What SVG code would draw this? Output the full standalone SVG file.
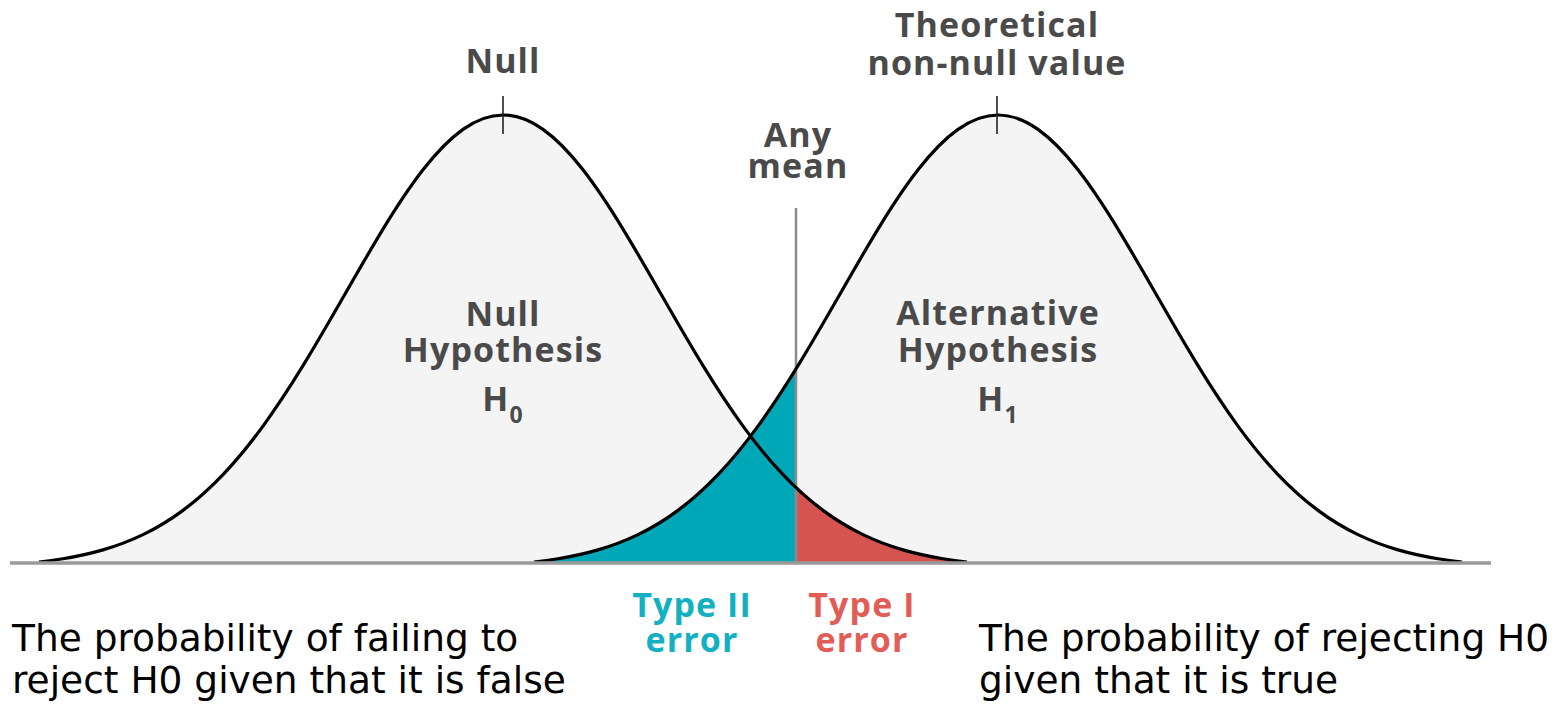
<svg xmlns="http://www.w3.org/2000/svg" xmlns:xlink="http://www.w3.org/1999/xlink" width="1558" height="704" viewBox="0 0 1558 704">
<style>
.lbl{font-family:"Open Sans","Liberation Sans",sans-serif;font-weight:700;font-size:34px;fill:#4a4a4a;text-anchor:middle;letter-spacing:1.1px}
.sub{font-size:23px}
.note{font-family:"DejaVu Sans","Liberation Sans",sans-serif;font-size:37.5px;fill:#000}
.bellfill{fill:#f4f4f4;stroke:none}
.bellline{fill:none;stroke:#000;stroke-width:3.2}
.tick{stroke:#222;stroke-width:1.6}
</style>
<defs>
<path id="bell" d="M-464,447 C-456,446.12 -448,445.06 -440,443.76 C-426.67,441.6 -413.33,438.78 -400,434.91 C-386.67,431.04 -373.33,426.1 -360,419.67 C-346.67,413.24 -333.33,405.29 -320,395.4 C-306.67,385.51 -293.33,373.68 -280,359.64 C-266.67,345.6 -253.33,329.38 -240,311.08 C-226.67,292.78 -213.33,272.42 -200,250.68 C-186.67,228.94 -173.33,205.82 -160,182.57 C-146.67,159.32 -133.33,135.96 -120,114.11 C-106.67,92.26 -93.33,71.94 -80,54.82 C-66.67,37.7 -53.33,23.81 -40,14.38 C-26.67,4.95 -13.33,0 0,0 C13.33,0 26.67,4.95 40,14.38 C53.33,23.81 66.67,37.7 80,54.82 C93.33,71.94 106.67,92.26 120,114.11 C133.33,135.96 146.67,159.32 160,182.57 C173.33,205.82 186.67,228.94 200,250.68 C213.33,272.42 226.67,292.78 240,311.08 C253.33,329.38 266.67,345.6 280,359.64 C293.33,373.68 306.67,385.51 320,395.4 C333.33,405.29 346.67,413.24 360,419.67 C373.33,426.1 386.67,431.04 400,434.91 C413.33,438.78 426.67,441.6 440,443.76 C448,445.06 456,446.12 464,447"/>
<clipPath id="leftOfLine"><rect x="0" y="0" width="796" height="563"/></clipPath>
<clipPath id="rightOfLine"><rect x="796" y="0" width="762" height="563"/></clipPath>
</defs>

<g id="null-dist">
<use xlink:href="#bell" href="#bell" class="bellfill" transform="translate(503,115)"/>
</g>
<g id="alt-dist">
<use xlink:href="#bell" href="#bell" class="bellfill" transform="translate(998,115)"/>
</g>
<g id="type2-area" clip-path="url(#leftOfLine)">
<use xlink:href="#bell" href="#bell" fill="#00a8b7" transform="translate(998,115)"/>
</g>
<g id="type1-area" clip-path="url(#rightOfLine)">
<use xlink:href="#bell" href="#bell" fill="#d6544f" transform="translate(503,115)"/>
</g>

<g id="connectors">
<line x1="796" y1="208" x2="796" y2="562" stroke="#8a8a8a" stroke-width="2.5"/>
<use xlink:href="#bell" href="#bell" class="bellline" transform="translate(503,115)"/>
<use xlink:href="#bell" href="#bell" class="bellline" transform="translate(998,115)"/>
<line x1="10" y1="563" x2="1491" y2="563" stroke="#9a9a9a" stroke-width="3.5"/>
<line class="tick" x1="503" y1="96" x2="503" y2="134"/>
<line class="tick" x1="997" y1="96" x2="997" y2="134"/>
</g>

<g id="label-null-top"><text class="lbl" x="503" y="73">Null</text></g>
<g id="label-theoretical">
<text class="lbl" x="997" y="37">Theoretical</text>
<text class="lbl" x="997" y="75">non-null value</text>
</g>
<g id="label-any-mean">
<text class="lbl" x="798" y="147">Any</text>
<text class="lbl" x="798" y="178">mean</text>
</g>
<g id="label-h0">
<text class="lbl" x="503" y="326">Null</text>
<text class="lbl" x="503" y="362">Hypothesis</text>
<text class="lbl" x="503" y="411">H<tspan class="sub" dy="12">0</tspan></text>
</g>
<g id="label-h1">
<text class="lbl" x="998" y="325">Alternative</text>
<text class="lbl" x="998" y="362">Hypothesis</text>
<text class="lbl" x="998" y="411">H<tspan class="sub" dy="12">1</tspan></text>
</g>
<g id="label-type2">
<text class="lbl" x="692" y="617" style="fill:#12b0c1">Type II</text>
<text class="lbl" x="692" y="652" style="fill:#12b0c1">error</text>
</g>
<g id="label-type1">
<text class="lbl" x="862" y="617" style="fill:#e35d57">Type I</text>
<text class="lbl" x="862" y="652" style="fill:#e35d57">error</text>
</g>
<g id="note-left">
<text class="note" x="12" y="651">The probability of failing to</text>
<text class="note" x="12" y="693">reject H0 given that it is false</text>
</g>
<g id="note-right">
<text class="note" x="979" y="651">The probability of rejecting H0</text>
<text class="note" x="979" y="693">given that it is true</text>
</g>
</svg>
